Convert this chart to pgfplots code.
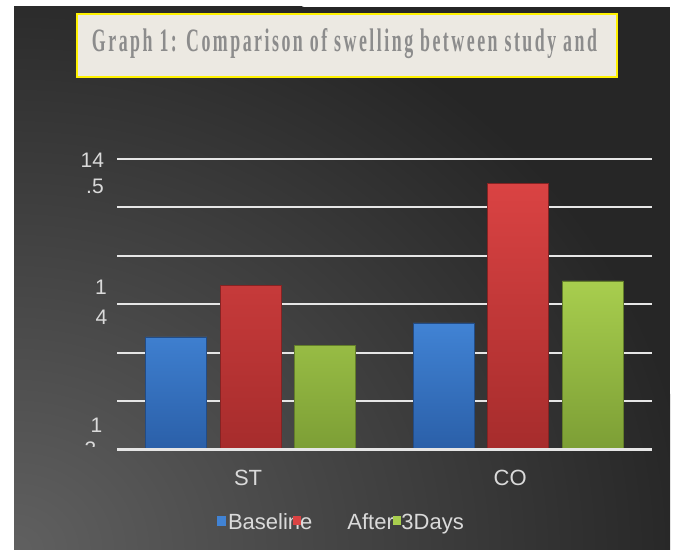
\documentclass[border=0pt]{standalone}
\usepackage{graphicx}
\usepackage{pgfplots}
\pgfplotsset{compat=1.18}
\usepackage{fontspec}
\setmainfont{Liberation Sans}
\newfontfamily\titlefont[LetterSpace=14]{Liberation Serif}
\definecolor{bg}{HTML}{262626}
\definecolor{bgl}{HTML}{606060}
\definecolor{titlebg}{HTML}{ECE9E2}
\definecolor{titlegray}{HTML}{8C8C8C}
\definecolor{txt}{HTML}{DADADA}
\definecolor{gridc}{HTML}{E6E6E6}
\definecolor{b1}{HTML}{4183D4}
\definecolor{b2}{HTML}{2A5FA8}
\definecolor{r1}{HTML}{DA4343}
\definecolor{r2}{HTML}{A62C2C}
\definecolor{g1}{HTML}{A8CE4E}
\definecolor{g2}{HTML}{7C9E35}
\begin{document}
\begin{tikzpicture}[x=1pt,y=1pt]
\fill[white] (0,0) rectangle (337.5,275);
\fill[bg] (7,0) rectangle (335,271.5);
\begin{scope}
\clip (7,0) rectangle (335,271.5);
\shade[inner color=bgl, outer color=bg] (7,0) ellipse [x radius=340, y radius=300];
\end{scope}
% title box
\node[draw=yellow, line width=1pt, fill=titlebg, minimum width=270pt, minimum height=31.5pt, inner sep=0pt] at (173.5,252.25) {};
\node[text=titlegray, inner sep=0pt] at (172.25,253) {\resizebox{252.5pt}{11.5pt}{\titlefont\bfseries Graph 1: Comparison of swelling between study and}};
\begin{axis}[
  at={(58.5pt,50pt)}, anchor=south west,
  scale only axis, width=267.5pt, height=145.7pt,
  xmin=-0.5, xmax=1.5, ymin=13.5, ymax=14.5,
  axis line style={draw=none}, tick style={draw=none},
  ybar=6.75pt, bar width=30.5pt,
  ytick={13.5,13.66667,13.83333,14,14.16667,14.33333,14.5},
  yticklabels={},
  ymajorgrids, grid style={gridc, line width=1pt},
  xtick={-0.01,0.97}, xticklabels={ST,CO},
  xticklabel style={text=txt, font=\fontsize{11}{13}\selectfont, anchor=base, yshift=-13.5pt},
]
\addplot[draw=b2!80!black, line width=0.3pt, top color=b1, bottom color=b2] coordinates {(0,13.888) (1,13.936)};
\addplot[draw=r2!80!black, line width=0.3pt, top color=r1, bottom color=r2] coordinates {(0,14.066) (1,14.416)};
\addplot[draw=g2!80!black, line width=0.3pt, top color=g1, bottom color=g2] coordinates {(0,13.860) (1,14.080)};
\draw[gridc, line width=1.5pt] (axis cs:-0.5,13.5) -- (axis cs:1.5,13.5);
\end{axis}
% garbled y tick labels
\begin{scope}[every node/.style={text=txt, font=\fontsize{10.5}{12}\selectfont, inner sep=0pt}]
\node at (46.2,194.75) {14};
\node at (47.5,181.75) {.5};
\node at (50.5,131.25) {1};
\node at (50.75,116.25) {4};
\node at (48.25,62.5) {1};
\begin{scope}
\clip (30,51.5) rectangle (60,60);
\node at (45.25,50.25) {3};
\end{scope}
\end{scope}
% legend
\begin{scope}[every node/.style={text=txt, font=\fontsize{11}{13}\selectfont, inner sep=0pt}]
\node[anchor=base west] at (113.8,10) {Baseline};
\node[anchor=base west] at (173.5,10) {After};
\node[anchor=base west] at (200.5,10) {3Days};
\node[anchor=south west] at (108.5,12) {\textcolor{b1}{\rule{4.5pt}{5pt}}};
\node[anchor=south west] at (146.5,12.5) {\textcolor{r1}{\rule{4pt}{4.5pt}}};
\node[anchor=south west] at (196.5,12.5) {\textcolor{g1}{\rule{4pt}{4.5pt}}};
\end{scope}
\end{tikzpicture}
\end{document}
